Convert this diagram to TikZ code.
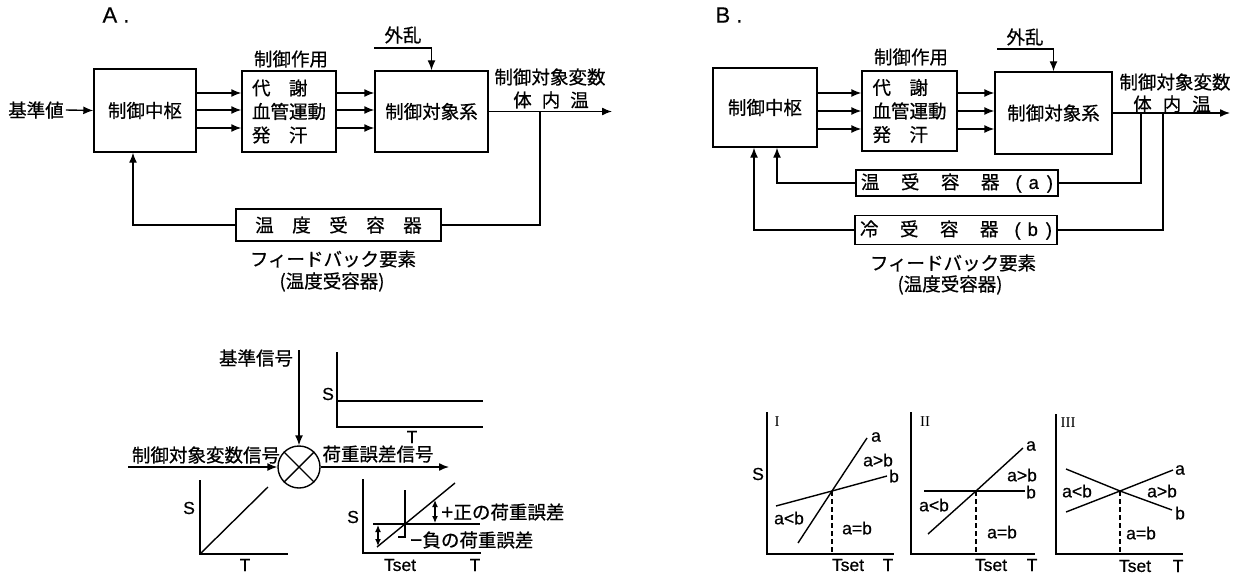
\documentclass[tikz,border=0pt]{standalone}
\usepackage{fontspec}
\setmainfont{Liberation Sans}
\newfontfamily\cjk[FakeBold=0.6]{Noto Sans CJK JP}
\newfontfamily\lat[FakeBold=0.5]{Liberation Sans}
\newfontfamily\rmn{Liberation Serif}
\usetikzlibrary{arrows.meta,calc}
\tikzset{
  ln/.style={line width=1.4pt},
  arr/.style={ln,-{Latex[length=10pt,width=8pt]}},
  darr/.style={line width=1.2pt,{Latex[length=7pt,width=6pt]}-{Latex[length=7pt,width=6pt]}},
  box/.style={draw,ln,rectangle,inner sep=0pt},
  jp/.style={font=\cjk\fontsize{18.5}{22}\selectfont,inner sep=0pt},
  lt/.style={font=\lat\fontsize{17.5}{20}\selectfont,inner sep=0pt},
  ttl/.style={font=\lat\fontsize{22}{24}\selectfont,inner sep=0pt},
  rn/.style={font=\rmn\fontsize{15}{18}\selectfont,inner sep=0pt},
  dsh/.style={line width=1.3pt,dash pattern=on 5pt off 3pt},
}
\begin{document}
\begin{tikzpicture}[x=1pt,y=-1pt]
\useasboundingbox (0,0) rectangle (1246,575);

% ================= A =================
\node[ttl] (tA) at (116,15) {A .};
\node[box,jp,minimum width=102pt,minimum height=83pt] (cc) at (145,110.5) {制御中枢};
\node[box,minimum width=94pt,minimum height=81pt,align=left,inner sep=0pt,
      font=\cjk\fontsize{18.5}{23.5}\selectfont] (act) at (289,111.5) {代　謝\\血管運動\\発　汗};
\node[jp] (actl) at (291,59) {制御作用};
\node[box,jp,minimum width=113pt,minimum height=81pt] (pl) at (431.5,111.5) {制御対象系};
\node[jp] (ref) at (36,110) {基準値};
\draw[arr] (ref.east) ++(2,0) -- (cc.west);
\coordinate (ya1) at (0,93);
\coordinate (ya2) at (0,110);
\coordinate (ya3) at (0,128);
\foreach \y in {ya1,ya2,ya3}{
  \draw[arr] (cc.east |- \y) -- (act.west |- \y);
  \draw[arr] (act.east |- \y) -- (pl.west |- \y);
}
\node[jp] (dA) at (403,35) {外乱};
\coordinate (dAs) at (374,48);
\draw[arr] (dAs) -| (pl.north);
\coordinate (outA) at (612,111.5);
\draw[arr] (pl.east) -- (outA);
\node[jp] (vA) at (550,77) {制御対象変数};
\node[jp] (bA) at (551,100) {体\hspace{10pt}内\hspace{10pt}温};
\coordinate (brA) at (540,111.5);
\node[box,jp,minimum width=205pt,minimum height=32pt] (fb) at (338.5,225) {温　度　受　容　器};
\draw[ln] (brA) |- (fb.east);
\draw[arr] (fb.west) -| ([xshift=-12pt]cc.south);
\node[jp] (fbl) at (333,259) {フィードバック要素};
\node[jp] (fbl2) at (332,282) {(温度受容器)};

% ================= B =================
\node[ttl] (tB) at (729,15) {B .};
\node[box,jp,minimum width=104pt,minimum height=79pt] (cc2) at (765,107.5) {制御中枢};
\node[box,minimum width=95pt,minimum height=80pt,align=left,inner sep=0pt,
      font=\cjk\fontsize{18.5}{23.5}\selectfont] (act2) at (909.5,111) {代　謝\\血管運動\\発　汗};
\node[jp] (actl2) at (911,57) {制御作用};
\node[box,jp,minimum width=117pt,minimum height=82pt] (pl2) at (1053.5,113) {制御対象系};
\coordinate (yb1) at (0,93);
\coordinate (yb2) at (0,111);
\coordinate (yb3) at (0,129);
\foreach \y in {yb1,yb2,yb3}{
  \draw[arr] (cc2.east |- \y) -- (act2.west |- \y);
  \draw[arr] (act2.east |- \y) -- (pl2.west |- \y);
}
\node[jp] (dB) at (1025,37) {外乱};
\coordinate (dBs) at (997,49);
\draw[arr] (dBs) -| (pl2.north);
\coordinate (outB) at (1230,113);
\draw[arr] (pl2.east) -- (outB);
\node[jp] (vB) at (1175,82) {制御対象変数};
\node[jp] (bB) at (1172,104) {体\hspace{11pt}内\hspace{11pt}温};
\coordinate (brB1) at (1141,113);
\coordinate (brB2) at (1163,113);
\node[box,jp,minimum width=202pt,minimum height=26pt] (fa) at (957,183)
  {温\hspace{21.5pt}受\hspace{21.5pt}容\hspace{21.5pt}器\hspace{16pt}{\lat(\hspace{7pt}a\hspace{8pt})}};
\node[box,jp,minimum width=202pt,minimum height=29pt] (fbb) at (956,230)
  {冷\hspace{21.5pt}受\hspace{21.5pt}容\hspace{21.5pt}器\hspace{16pt}{\lat(\hspace{7pt}b\hspace{8pt})}};
\draw[ln] (brB1) |- (fa.east);
\draw[ln] (brB2) |- (fbb.east);
\draw[arr] (fa.west) -| ([xshift=12pt]cc2.south);
\draw[arr] (fbb.west) -| ([xshift=-11pt]cc2.south);
\node[jp] (fblB) at (953,263) {フィードバック要素};
\node[jp] (fblB2) at (950,285) {(温度受容器)};

% ================= bottom left =================
\node[circle,draw,ln,minimum size=42pt,inner sep=0pt] (sum) at (299,467) {};
\draw[ln] (sum.north west) -- (sum.south east);
\draw[ln] (sum.north east) -- (sum.south west);
\node[jp] (rsl) at (256,358) {基準信号};
\coordinate (rs) at (299,350);
\draw[arr] (rs) -- (sum.north);
\node[jp] (vsl) at (206,455) {制御対象変数信号};
\coordinate (vin) at (128,467);
\draw[arr] (vin) -- (sum.west);
\node[jp] (esl) at (378,454) {荷重誤差信号};
\coordinate (eout) at (449,467);
\draw[arr] (sum.east) -- (eout);

% small graph: reference signal
\draw[ln] (337,352) -- (337,427) -- (483,427);
\draw[ln] (337,401) -- (483,401);
\node[lt] at (328,394) {S};
\node[lt] at (412,437) {T};

% small graph: controlled variable
\draw[ln] (200,480) -- (200,554) -- (288,554);
\draw[ln] (200,554) -- (268,487);
\node[lt] at (189,508) {S};
\node[lt] at (245,565) {T};

% small graph: error
\draw[ln] (363,479) -- (363,553) -- (481,553);
\draw[ln] (373,524) -- (480,524);
\draw[ln] (405,490) -- (405,537) -- (398,537);
\draw[ln] (377,547) -- (455,483);
\draw[darr] (435,500) -- (435,523);
\draw[darr] (378,525) -- (378,546);
\node[lt] at (353,517) {S};
\node[lt] at (400,565) {Tset};
\node[lt] at (475,565) {T};
\node[jp,anchor=west] at (441,512) {{\lat\fontsize{21}{22}\selectfont +}正の荷重誤差};
\node[jp,anchor=west] at (410,540) {{\lat\fontsize{21}{22}\selectfont −}負の荷重誤差};

% ================= bottom right: I =================
\draw[ln] (767,412) -- (767,554) -- (894,554);
\node[rn] at (777,422) {I};
\node[lt] at (758,474) {S};
\coordinate (xI) at (832,491);
\draw[ln] (798,543) -- (xI) -- (867,438);
\draw[ln] (776,506) -- (xI) -- (887,476);
\draw[dsh] (xI) -- (832,554);
\node[lt] at (876,437) {a};
\node[lt] at (894,476) {b};
\node[lt] at (878,460) {a>b};
\node[lt] at (789,518) {a<b};
\node[lt] at (857,528) {a=b};
\node[lt] at (848,565) {Tset};
\node[lt] at (888,565) {T};

% ================= II =================
\draw[ln] (911,412) -- (911,554) -- (1035,554);
\node[rn] at (925,422) {II};
\coordinate (xII) at (976,491);
\draw[ln] (924,491) -- (xII) -- (1025,491);
\draw[ln] (928,534) -- (xII) -- (1023,448);
\draw[dsh] (xII) -- (976,554);
\node[lt] at (1031,446) {a};
\node[lt] at (1031,492) {b};
\node[lt] at (934,505) {a<b};
\node[lt] at (1022,475) {a>b};
\node[lt] at (1002,532) {a=b};
\node[lt] at (991,565) {Tset};
\node[lt] at (1032,565) {T};

% ================= III =================
\draw[ln] (1056,414) -- (1056,554) -- (1183,554);
\node[rn] at (1068,423) {III};
\coordinate (xIII) at (1120,491);
\draw[ln] (1066,512) -- (xIII) -- (1173,470);
\draw[ln] (1066,469) -- (xIII) -- (1172,510);
\draw[dsh] (xIII) -- (1120,554);
\node[lt] at (1180,470) {a};
\node[lt] at (1180,513) {b};
\node[lt] at (1077,491) {a<b};
\node[lt] at (1162,491) {a>b};
\node[lt] at (1141,533) {a=b};
\node[lt] at (1135,566) {Tset};
\node[lt] at (1178,566) {T};
\end{tikzpicture}
\end{document}
